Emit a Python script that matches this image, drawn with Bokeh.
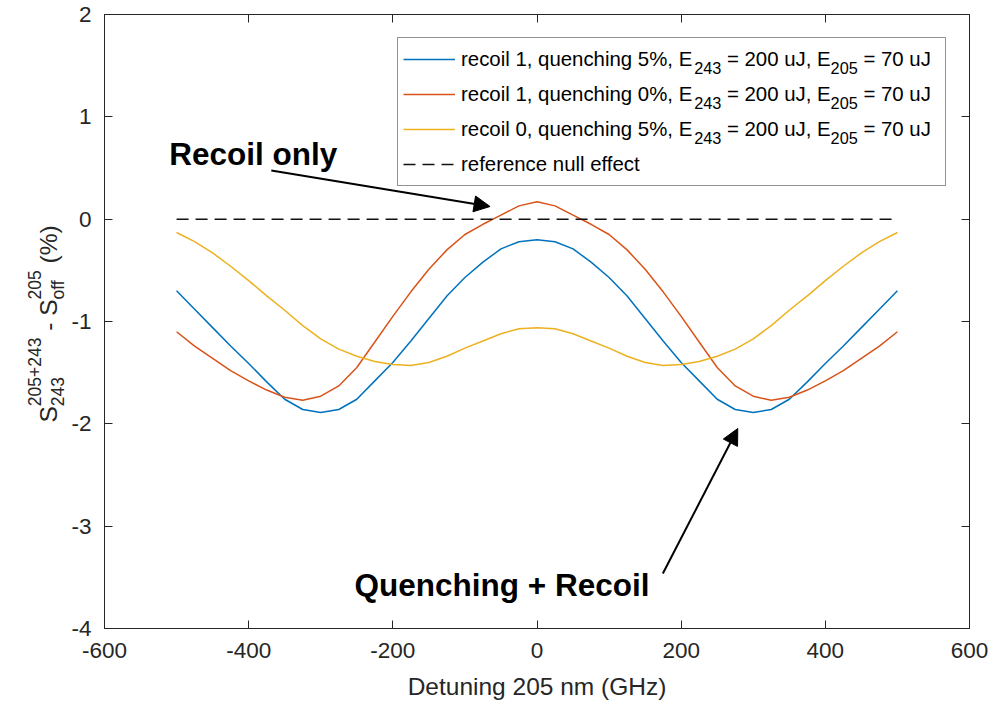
import numpy as np
from bokeh.plotting import figure
from bokeh.layouts import row
from bokeh.models import (Range1d, LinearAxis, FixedTicker, Legend, LegendItem,
                          Label, Arrow, NormalHead)
from bokeh.embed import file_html
from bokeh.resources import INLINE
from bokeh.core.properties import value

# ---------------- data ----------------
detuning = [-500, -475, -450, -425, -400, -375, -350, -325, -300, -275, -250,
            -225, -200, -175, -150, -125, -100, -75, -50, -25, 0,
            25, 50, 75, 100, 125, 150, 175, 200, 225, 250,
            275, 300, 325, 350, 375, 400, 425, 450, 475, 500]

recoil1_q5 = [-0.70, -0.88, -1.06, -1.24, -1.41, -1.59, -1.76, -1.86, -1.89, -1.86, -1.76,
              -1.58, -1.40, -1.19, -0.97, -0.75, -0.57, -0.42, -0.29, -0.22, -0.20,
              -0.22, -0.29, -0.42, -0.57, -0.75, -0.97, -1.19, -1.40, -1.58, -1.76,
              -1.86, -1.89, -1.86, -1.76, -1.59, -1.41, -1.24, -1.06, -0.88, -0.70]

recoil1_q0 = [-1.10, -1.24, -1.36, -1.48, -1.58, -1.67, -1.74, -1.77, -1.73, -1.63, -1.45,
              -1.20, -0.95, -0.71, -0.49, -0.30, -0.15, -0.05, 0.04, 0.13, 0.17,
              0.13, 0.04, -0.05, -0.15, -0.30, -0.49, -0.71, -0.95, -1.20, -1.45,
              -1.63, -1.73, -1.77, -1.74, -1.67, -1.58, -1.48, -1.36, -1.24, -1.10]

recoil0_q5 = [-0.13, -0.22, -0.33, -0.46, -0.60, -0.75, -0.89, -1.04, -1.17, -1.27, -1.34,
              -1.39, -1.42, -1.43, -1.40, -1.34, -1.26, -1.19, -1.12, -1.07, -1.06,
              -1.07, -1.12, -1.19, -1.26, -1.34, -1.40, -1.43, -1.42, -1.39, -1.34,
              -1.27, -1.17, -1.04, -0.89, -0.75, -0.60, -0.46, -0.33, -0.22, -0.13]

null_x = [-500, 500]
null_y = [0, 0]

x_ticks = [-600, -400, -200, 0, 200, 400, 600]
y_ticks = [-4, -3, -2, -1, 0, 1, 2]

legend_main = ["recoil 1, quenching 5%, E", "recoil 1, quenching 0%, E",
               "recoil 0, quenching 5%, E"]
legend_null = "reference null effect"

# ---------------- layout helpers ----------------
FONT = "Liberation Sans"
AX = "#262626"
TOTAL_W, H = 1000, 702
LW = 68                      # narrow left panel holding the y-axis title
W = TOTAL_W - LW
FL, FR, FT, FB = 103, 969, 14, 628   # frame edges in picture pixels
BL, BR, BT, BB = FL - LW, TOTAL_W - FR, FT, H - FB

def dx(px):
    return -600 + (px - FL) * 1200.0 / (FR - FL)
def dy(py):
    return 2 - (py - FT) * 6.0 / (FB - FT)

ARIAL = {' ': 278, ',': 278, '%': 889, '=': 584, '+': 584, '-': 333, '(': 333, ')': 333,
         'r': 333, 'e': 556, 'c': 500, 'o': 556, 'i': 222, 'l': 222, 'q': 556, 'u': 556,
         'n': 556, 'h': 556, 'g': 556, 'E': 667, 'J': 500, 'f': 278, 'S': 667}
def tw(s, size):
    return sum(ARIAL.get(ch, 556) for ch in s) * size / 1000.0

p = figure(width=W, height=H, output_backend="svg", toolbar_location=None,
           x_range=Range1d(-600, 600), y_range=Range1d(-4, 2),
           min_border_left=BL, min_border_right=BR, min_border_top=BT, min_border_bottom=BB)
p.background_fill_color = "white"
p.border_fill_color = "white"
p.outline_line_color = AX
p.outline_line_width = 1
p.xgrid.visible = False
p.ygrid.visible = False

for ax, ticks in ((p.xaxis[0], x_ticks), (p.yaxis[0], y_ticks)):
    ax.ticker = FixedTicker(ticks=ticks)
    ax.major_label_overrides = {t: str(t) for t in ticks}
    ax.major_tick_in = 8
    ax.major_tick_out = 0
    ax.minor_tick_line_color = None
    ax.axis_line_color = AX
    ax.major_tick_line_color = AX
    ax.major_label_text_font = FONT
    ax.major_label_text_font_size = "22.5px"
    ax.major_label_text_color = AX
p.xaxis.major_label_standoff = 14
p.yaxis.major_label_standoff = 13
p.xaxis.axis_label = "Detuning 205 nm (GHz)"
p.xaxis.axis_label_text_font = FONT
p.xaxis.axis_label_text_font_size = "24.5px"
p.xaxis.axis_label_text_font_style = "normal"
p.xaxis.axis_label_text_color = AX
p.xaxis.axis_label_standoff = 12

top_ax = LinearAxis(ticker=FixedTicker(ticks=x_ticks), major_tick_in=8, major_tick_out=0,
                    minor_tick_line_color=None, axis_line_color=AX, major_tick_line_color=AX,
                    major_label_text_font_size="1px", major_label_text_color=None,
                    major_label_standoff=0)
right_ax = LinearAxis(ticker=FixedTicker(ticks=y_ticks), major_tick_in=8, major_tick_out=0,
                      minor_tick_line_color=None, axis_line_color=AX, major_tick_line_color=AX,
                      major_label_text_font_size="1px", major_label_text_color=None,
                      major_label_standoff=0)
p.add_layout(top_ax, "above")
p.add_layout(right_ax, "right")

# ---------------- curves ----------------
r1 = p.line(detuning, recoil1_q5, line_color="#0072BD", line_width=1.5)
r2 = p.line(detuning, recoil1_q0, line_color="#D95319", line_width=1.5)
r3 = p.line(detuning, recoil0_q5, line_color="#EDB120", line_width=1.5)
r4 = p.line(null_x, null_y, line_color="#111111", line_width=1.5, line_dash="12 7")

# ---------------- legend ----------------
LEG_FS = 20.4
SUB_FS = 16.3
legend = Legend(items=[LegendItem(label=value(legend_main[0]), renderers=[r1]),
                       LegendItem(label=value(legend_main[1]), renderers=[r2]),
                       LegendItem(label=value(legend_main[2]), renderers=[r3]),
                       LegendItem(label=value(legend_null), renderers=[r4])],
                location="top_right", margin=23, padding=5, spacing=3,
                glyph_width=52, glyph_height=32, label_height=32, label_width=479,
                label_standoff=6, label_text_font=FONT, label_text_font_size=f"{LEG_FS}px",
                label_text_color="black", border_line_color=AX, border_line_width=1,
                background_fill_alpha=0.0)
p.add_layout(legend)

box_right = FR - 23
box_left = box_right - (2 * 5 + 52 + 6 + 479)
text_x0 = box_left + 5 + 52 + 6
for i, main in enumerate(legend_main):
    c = FT + 23 + 5 + 16 + 35 * i
    x1 = text_x0 + tw(main, LEG_FS)
    x2 = x1 + tw("243", SUB_FS)
    x3 = x2 + tw(" = 200 uJ, E", LEG_FS)
    x4 = x3 + tw("205", SUB_FS)
    pieces = [(x1, c + 9, "243", SUB_FS),
              (x2 + tw(" ", LEG_FS), c, "= 200 uJ, E", LEG_FS),
              (x3, c + 9, "205", SUB_FS),
              (x4 + tw(" ", LEG_FS), c, "= 70 uJ", LEG_FS)]
    for (xx, yy, t, fs) in pieces:
        p.add_layout(Label(x=dx(xx), y=dy(yy), text=t, text_font=FONT,
                           text_font_size=f"{fs}px", text_color="black",
                           text_align="left", text_baseline="middle", level="overlay"))

# ---------------- annotations ----------------
p.add_layout(Label(x=dx(252), y=dy(153), text="Recoil only", text_font=FONT,
                   text_font_style="bold", text_font_size="31.5px", text_color="black",
                   text_align="center", text_baseline="alphabetic"))
p.add_layout(Label(x=dx(501), y=dy(584), text="Quenching + Recoil", text_font=FONT,
                   text_font_style="bold", text_font_size="31.5px", text_color="black",
                   text_align="center", text_baseline="alphabetic"))
p.add_layout(Arrow(end=NormalHead(size=16, fill_color="black", line_color="black"),
                   x_start=dx(270), y_start=dy(170), x_end=dx(489), y_end=dy(206),
                   line_color="black", line_width=2))
p.add_layout(Arrow(end=NormalHead(size=16, fill_color="black", line_color="black"),
                   x_start=dx(662), y_start=dy(573), x_end=dx(737), y_end=dy(428),
                   line_color="black", line_width=2))

# ---------------- left panel: y-axis title with sub/superscripts ----------------
# its frame is aligned with the main frame (rows 14..628), so data y = picture y
left = figure(width=LW, height=H, output_backend="svg", toolbar_location=None,
              x_range=Range1d(0, LW), y_range=Range1d(FB, FT),
              x_axis_location=None, y_axis_location=None,
              min_border_left=0, min_border_right=0, min_border_top=BT, min_border_bottom=BB)
left.outline_line_color = None
left.background_fill_color = "white"
left.border_fill_color = "white"
left.xgrid.visible = False
left.ygrid.visible = False

BASE = 24.5
SCR = 17.5
base_x, sup_x, sub_x = 48, 34, 57
yy = 422.0
ylab = []
ylab.append((base_x, yy, "S", BASE)); yy -= tw("S", BASE)
ylab.append((sup_x, yy, "205+243", SCR)); ylab.append((sub_x, yy, "243", SCR))
yy -= tw("205+243", SCR)
ylab.append((base_x, yy - tw(" ", BASE), "-", BASE)); yy -= tw(" - ", BASE)
ylab.append((base_x, yy, "S", BASE)); yy -= tw("S", BASE)
ylab.append((sup_x, yy, "205", SCR)); ylab.append((sub_x, yy, "off", SCR))
yy -= tw("205", SCR)
ylab.append((base_x, yy - tw(" ", BASE), "(%)", BASE))
for (xx, y0, t, fs) in ylab:
    left.add_layout(Label(x=xx, y=y0, text=t, text_font=FONT, text_font_size=f"{fs}px",
                          text_color=AX, angle=np.pi / 2, text_align="left",
                          text_baseline="alphabetic"))

layout = row(left, p)
open("out.html", "w").write(file_html(layout, INLINE))
